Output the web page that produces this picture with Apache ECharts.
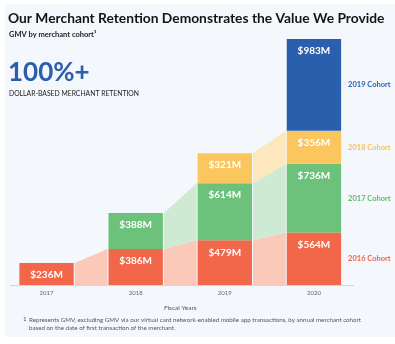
<!DOCTYPE html>
<html>
<head>
<meta charset="utf-8">
<script src="https://cdn.jsdelivr.net/npm/echarts@6/dist/echarts.min.js"></script>
<style>
  html, body { margin: 0; padding: 0; background: #ffffff; }
  #panel { position: absolute; left: 5px; top: 4px; width: 390px; height: 333px; background: #f4f7fc; }
  #chart { position: absolute; left: 0; top: 0; width: 395px; height: 344px; }
</style>
</head>
<body>
<div id="panel"></div>
<div id="chart"></div>
<script>
// Fiscal years on the x axis
const years = ['2017', '2018', '2019', '2020'];

// GMV ($M) per annual merchant cohort, by fiscal year
const cohort2016 = [236, 386, 479, 564];
const cohort2017 = [null, 388, 614, 736];
const cohort2018 = [null, null, 321, 356];
const cohort2019 = [null, null, null, 983];

const cohortNames = ['2016 Cohort', '2017 Cohort', '2018 Cohort', '2019 Cohort'];
const cohortValues = [cohort2016, cohort2017, cohort2018, cohort2019];

const barColors = ['#f26749', '#6cc27a', '#fcc65e', '#2a5fae'];
const shadeColors = ['#fbc9ba', '#cfead3', '#fde8bd', '#c9d6ee'];
const textColors = ['#ef6447', '#5fba6b', '#f8c24f', '#2a5fad'];

const BAR_RATIO = 0.61;

// Cumulative stack bounds [low, high] per cohort and year
function stackBounds() {
  const out = cohortValues.map(() => years.map(() => null));
  years.forEach((_, yi) => {
    let base = 0;
    cohortValues.forEach((vals, ci) => {
      const v = vals[yi];
      if (v != null) { out[ci][yi] = [base, base + v]; base += v; }
    });
  });
  return out;
}
const bounds = stackBounds();

// Connector bands between consecutive years for each cohort present in both
const connectorData = [];
cohortValues.forEach((vals, ci) => {
  for (let yi = 0; yi < years.length - 1; yi++) {
    const a = bounds[ci][yi], b = bounds[ci][yi + 1];
    if (a && b) connectorData.push({ value: [yi, a[0], a[1], b[0], b[1]], itemStyle: { color: shadeColors[ci] } });
  }
});

// Cohort names beside the last year's stack
const last = years.length - 1;
const cohortLabelData = cohortNames.map((name, ci) => ({
  value: [last, bounds[ci][last][0], bounds[ci][last][1]],
  name: name,
  color: textColors[ci]
}));

const chart = echarts.init(document.getElementById('chart'), null, { renderer: 'canvas' });

const barSeries = cohortValues.map((vals, ci) => ({
  type: 'bar',
  name: cohortNames[ci],
  stack: 'gmv',
  data: vals.map(v => v == null ? '-' : v),
  barWidth: (BAR_RATIO * 100) + '%',
  z: 3,
  itemStyle: { color: barColors[ci] },
  label: {
    show: true,
    position: 'insideTop',
    distance: 7,
    formatter: p => '$' + p.value + 'M',
    color: '#ffffff',
    fontFamily: 'Lato',
    fontWeight: 'bold',
    fontSize: 10
  }
}));

const option = {
  animation: false,
  backgroundColor: 'transparent',
  textStyle: { fontFamily: 'Lato' },
  title: [
    { text: 'Our Merchant Retention Demonstrates the Value We Provide', left: 8, top: 12, padding: 0,
      textStyle: { fontFamily: 'Lato', fontWeight: 'bold', fontSize: 13.8, color: '#141414' } },
    { text: 'GMV by merchant cohort¹', left: 9, top: 30.5, padding: 0,
      textStyle: { fontFamily: 'Lato', fontWeight: 'bold', fontSize: 7.5, color: '#222222' } },
    { text: '100%+', left: 8, top: 60, padding: 0,
      textStyle: { fontFamily: 'Lato', fontWeight: 'bold', fontSize: 26, color: '#2a5fad' } },
    { text: 'DOLLAR-BASED MERCHANT RETENTION', left: 9, top: 90.5, padding: 0,
      textStyle: { fontFamily: 'Lato', fontWeight: 'normal', fontSize: 6.8, color: '#222222' } },
    { text: '1', left: 23, top: 316.5, padding: 0,
      textStyle: { fontFamily: 'Lato', fontWeight: 'normal', fontSize: 6.2, color: '#555555' } },
    { text: 'Represents GMV, excluding GMV via our virtual card network-enabled mobile app transactions, by annual merchant cohort\nbased on the date of first transaction of the merchant.',
      left: 29, top: 316.5, padding: 0,
      textStyle: { fontFamily: 'Lato', fontWeight: 'normal', fontSize: 6.2, lineHeight: 7.5, color: '#555555' } }
  ],
  grid: { left: 2, right: 36.5, top: 39, bottom: 59 },
  xAxis: {
    type: 'category',
    data: years,
    axisLine: { show: false },
    axisTick: { show: false },
    axisLabel: { color: '#666666', fontSize: 6, margin: 5, fontFamily: 'Lato' },
    name: 'Fiscal Years',
    nameLocation: 'middle',
    nameGap: 19.5,
    nameTextStyle: { color: '#555555', fontSize: 6.5, fontFamily: 'Lato' }
  },
  yAxis: { type: 'value', min: 0, max: 2640, show: false },
  graphic: [
    { type: 'line', shape: { x1: 10, y1: 285.5, x2: 354, y2: 285.5 }, style: { stroke: '#d3d7dd', lineWidth: 1 }, z: 10 }
  ],
  series: [
    {
      type: 'custom',
      z: 1,
      silent: true,
      data: connectorData,
      renderItem: (params, api) => {
        const half = api.size([1, 0])[0] * BAR_RATIO / 2;
        const i = api.value(0);
        const a0 = api.coord([i, api.value(1)]), a1 = api.coord([i, api.value(2)]);
        const b0 = api.coord([i + 1, api.value(3)]), b1 = api.coord([i + 1, api.value(4)]);
        const xa = a0[0] + half + 1, xb = b0[0] - half - 1;
        return {
          type: 'polygon',
          shape: { points: [[xa, a1[1]], [xb, b1[1]], [xb, b0[1]], [xa, a0[1]]] },
          style: { fill: api.visual('color') }
        };
      }
    },
    ...barSeries,
    {
      type: 'custom',
      z: 4,
      silent: true,
      data: cohortLabelData,
      renderItem: (params, api) => {
        const half = api.size([1, 0])[0] * BAR_RATIO / 2;
        const i = api.value(0);
        const lo = api.coord([i, api.value(1)]), hi = api.coord([i, api.value(2)]);
        const item = cohortLabelData[params.dataIndex];
        return {
          type: 'text',
          style: {
            x: lo[0] + half + 7,
            y: (lo[1] + hi[1]) / 2,
            text: item.name,
            fill: item.color,
            font: 'bold 7.5px Lato',
            align: 'left',
            verticalAlign: 'middle'
          }
        };
      }
    }
  ]
};

chart.setOption(option);
</script>
</body>
</html>
